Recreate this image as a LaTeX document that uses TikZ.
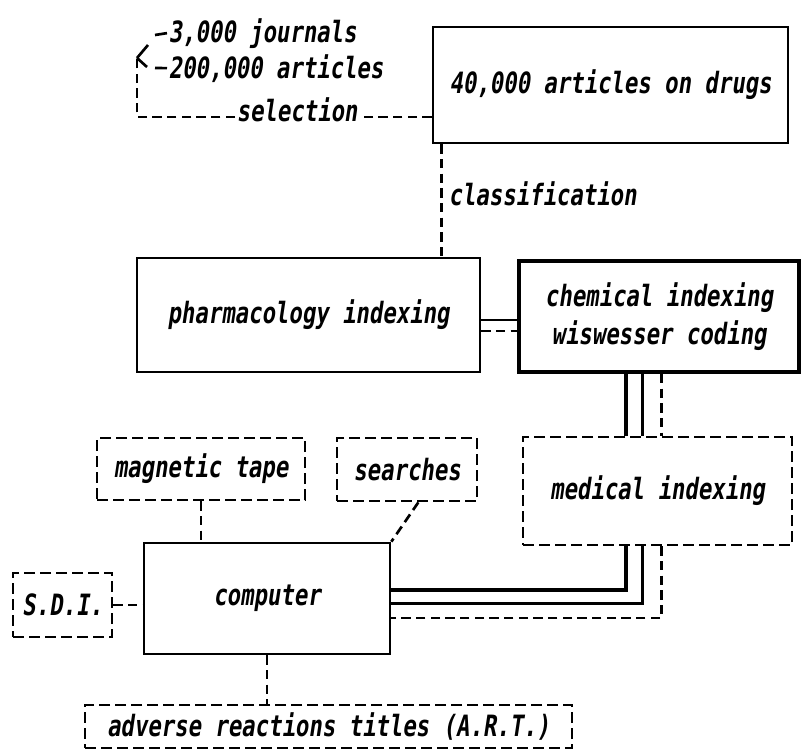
\documentclass[tikz,border=0pt]{standalone}
\usepackage{fontspec}
\usetikzlibrary{calc}
\newfontfamily\labfont{DejaVu Sans Mono}[UprightFont={* Bold}, FakeStretch=0.76, FakeSlant=0.15]

\tikzset{
  lab/.style={font=\labfont\fontsize{22}{26}\selectfont, inner sep=1pt},
  boxsolid/.style={lab, draw, line width=2pt, rectangle, inner sep=0pt},
  boxheavy/.style={boxsolid, line width=3pt},
  boxdash/.style={boxsolid, dash pattern=on 8pt off 4pt},
  solidline/.style={line width=2pt},
  heavyline/.style={line width=3pt},
  dashline/.style={line width=2pt, dash pattern=on 7pt off 4pt},
}

\begin{document}
\begin{tikzpicture}[x=0.75pt, y=-0.75pt]
\useasboundingbox (0,0) rectangle (802,754);

% boxes
\node[boxsolid, minimum width=266.25pt, minimum height=87pt] (drugs) at (610.5,85) {40,000 articles on drugs};
\node[boxsolid, minimum width=257.25pt, minimum height=85.5pt] (pharm) at (308.5,315) {pharmacology indexing};
\node[boxheavy, minimum width=210pt, minimum height=83.25pt, align=center] (chem) at (659,316.5) {chemical indexing\\[2pt]wiswesser coding};
\node[boxdash, minimum width=201.75pt, minimum height=81pt] (med) at (657.5,491) {medical indexing};
\node[boxsolid, minimum width=184.5pt, minimum height=83.25pt] (comp) at (267,598.5) {computer};
\node[boxdash, minimum width=156pt, minimum height=46.5pt] (tape) at (201,469) {magnetic tape};
\node[boxdash, minimum width=105pt, minimum height=47.25pt] (srch) at (407,469.5) {searches};
\node[boxdash, minimum width=74.25pt, minimum height=48pt] (sdi) at (62.5,605) {S.D.I.};
\node[boxdash, minimum width=365.25pt, minimum height=32.25pt] (art) at (328.5,726.5) {adverse reactions titles (A.R.T.)};

% free labels
\node[lab, anchor=base west] (j1) at (167,42) {3,000 journals};
\node[lab, anchor=base west] (j2) at (167,78) {200,000 articles};
\node[lab, anchor=base] (sel) at (297,121) {selection};
\node[lab, anchor=base west] (cls) at (447,205) {classification};

% selection bracket
\coordinate (selL) at (137,117);
\coordinate (fork) at (137,58);
\draw[dashline] (drugs.west |- selL) -- (sel.east |- selL);
\draw[dashline] (sel.west |- selL) -- (selL) -- (fork);
\draw[solidline] (fork) -- (148,45);
\draw[solidline] (155,35) -- (j1.west);
\draw[solidline] (fork) -- (147,67);
\draw[solidline] (155,68) -- (j2.west);

% classification
\coordinate (clsTop) at ($(drugs.south west)+(10,0)$);
\draw[dashline] (clsTop) -- (clsTop |- pharm.north);

% pharmacology -- chemical
\draw[solidline] ($(pharm.east)+(0,5)$) -- ($(chem.west |- pharm.east)+(0,5)$);
\draw[dashline] ($(pharm.east)+(0,16)$) -- ($(chem.west |- pharm.east)+(0,16)$);

% chemical -- medical -- computer
\coordinate (v1) at ($(med.north west)+(104,0)$);
\coordinate (v2) at ($(med.north west)+(121,0)$);
\coordinate (v3) at ($(med.north west)+(140,0)$);
\draw[heavyline] (v1 |- chem.south) -- (v1);
\draw[solidline] (v2 |- chem.south) -- (v2);
\draw[dashline] (v3 |- chem.south) -- (v3);
\draw[heavyline] (v1 |- med.south) |- ($(comp.east)+(0,-8.5)$);
\draw[solidline] (v2 |- med.south) |- ($(comp.east)+(0,5)$);
\draw[dashline] (v3 |- med.south) |- ($(comp.east)+(0,19.5)$);

% peripherals of the computer
\draw[dashline] (tape.south) -- (tape.south |- comp.north);
\draw[dashline] ($(srch.south east)+(-60,0)$) -- (comp.north east);
\draw[dashline] (sdi.east) -- (sdi.east -| comp.west);
\draw[dashline] (comp.south) -- (comp.south |- art.north);
\end{tikzpicture}
\end{document}
